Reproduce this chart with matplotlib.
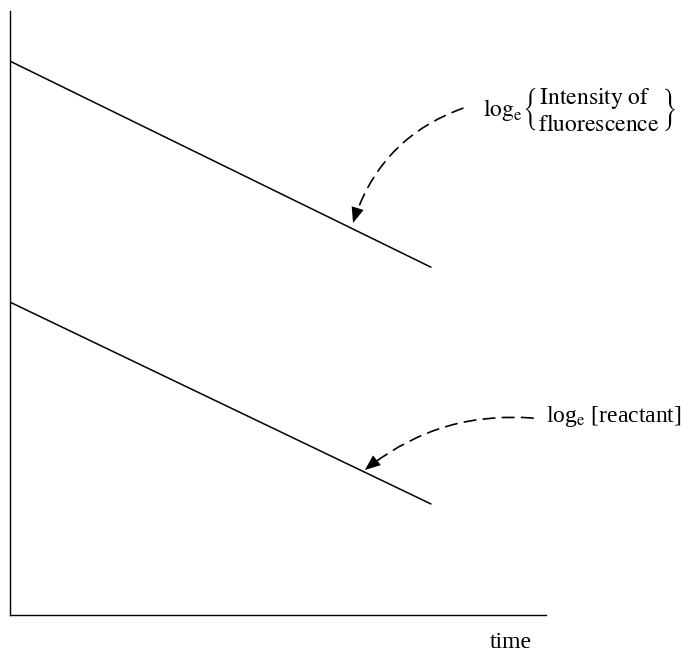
import matplotlib
matplotlib.use("Agg")
import matplotlib.pyplot as plt

plt.rcParams['font.family'] = ['Liberation Serif', 'DejaVu Serif']
plt.rcParams['mathtext.fontset'] = 'stix'

# data
time = [0.0, 7.85]
log_fluorescence = [9.17, 5.76]
log_reactant = [5.18, 1.84]
x_label = "time"
label_fluor = (r"$\mathrm{log}_{\mathrm{e}}\genfrac{\{}{\}}{0}{0}"
               r"{\mathrm{Intensity\ of\ \,}}{\mathrm{fluorescence}}$")
label_react = r"log$_{\mathrm{e}}$ [reactant]"

W, H = 685, 651
fig = plt.figure(figsize=(W / 100, H / 100), dpi=100)
ax = fig.add_axes([10 / W, 36 / H, 536 / W, 604 / H])
ax.set_xlim(0, 10)
ax.set_ylim(0, 10)
for s in ('top', 'right'):
    ax.spines[s].set_visible(False)
for s in ('left', 'bottom'):
    ax.spines[s].set_linewidth(1.0)
ax.set_xticks([])
ax.set_yticks([])

ax.plot(time, log_fluorescence, color='black', lw=1.1)
ax.plot(time, log_reactant, color='black', lw=1.1)

fs = 17

def curved_arrow(start, tip, rad):
    ax.annotate("", xy=tip, xytext=start,
                arrowprops=dict(arrowstyle='-', color='black', lw=1.2,
                                linestyle=(0, (7, 4.5)),
                                connectionstyle=f"arc3,rad={rad}",
                                shrinkA=0, shrinkB=6))
    ax.annotate("", xy=tip, xytext=start,
                arrowprops=dict(arrowstyle='-|>,head_length=0.8,head_width=0.32',
                                mutation_scale=14,
                                color='black', lw=0.0,
                                connectionstyle=f"arc3,rad={rad}",
                                shrinkA=0, shrinkB=0))

curved_arrow((8.45, 8.39), (6.40, 6.49), 0.25)
curved_arrow((9.76, 3.26), (6.62, 2.40), 0.2)

ax.text(8.83, 8.36, label_fluor, fontsize=fs, ha='left', va='center')
ax.text(10.0, 3.28, label_react, fontsize=fs, ha='left', va='center',
        clip_on=False)

fig.text(511 / W, 1 - 642 / H, x_label, fontsize=fs, ha='center', va='center')

fig.savefig("out.png", dpi=100)
